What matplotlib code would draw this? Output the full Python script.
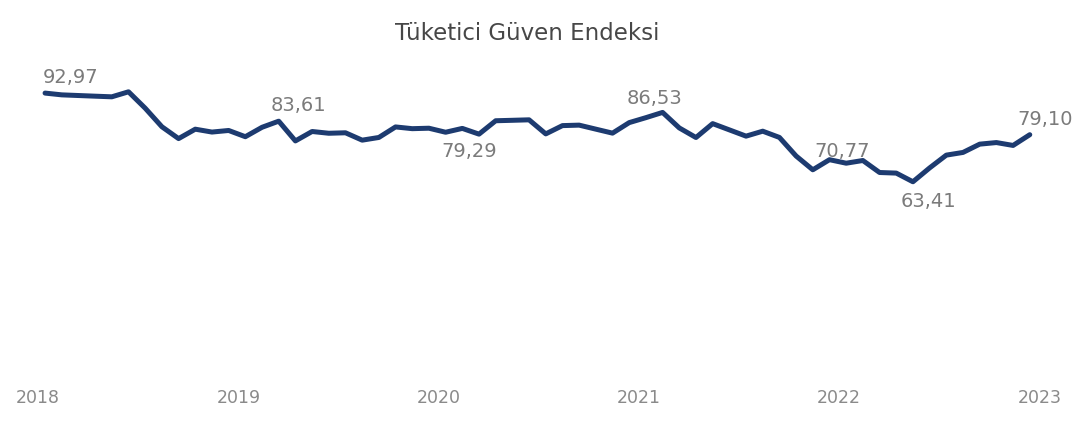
import matplotlib
matplotlib.use("Agg")
import matplotlib.pyplot as plt
import matplotlib.transforms as mtransforms
import numpy as np
import pandas as pd

# aylik endeks degerleri (Ocak 2018 - Aralik 2022)
y2018 = [92.97, 92.38, 92.16, 91.94, 91.73, 93.40, 87.93, 81.75, 77.80, 80.94, 79.98, 80.51]
y2019 = [78.43, 81.57, 83.61, 77.03, 80.17, 79.58, 79.74, 77.28, 78.18, 81.69, 81.11, 81.26]
y2020 = [79.92, 81.20, 79.29, 83.75, 83.90, 84.06, 79.37, 82.13, 82.29, 80.95, 79.62, 83.13]
y2021 = [84.78, 86.53, 81.36, 78.16, 82.79, 80.71, 78.62, 80.27, 78.19, 72.00, 67.40, 70.77]
y2022 = [69.60, 70.50, 66.50, 66.30, 63.41, 68.03, 72.29, 73.19, 75.95, 76.48, 75.52, 79.10]

years = ['2018', '2019', '2020', '2021', '2022', '2023']
labelled_months = ['2018-01', '2019-03', '2020-03', '2021-02', '2021-12', '2022-05', '2022-12']

values = y2018 + y2019 + y2020 + y2021 + y2022
months = pd.date_range('2018-01-01', periods=len(values), freq='MS').strftime('%Y-%m')
df = pd.DataFrame({'month': months, 'value': values})

plt.rcParams['font.family'] = ['DejaVu Sans']

fig = plt.figure(figsize=(10.76, 4.22), dpi=100)
ax = fig.add_axes([0, 50 / 422, 1, 312 / 422])

ax.plot(df.index, df['value'], color='#1d3b70', linewidth=3.6, solid_joinstyle='round', solid_capstyle='round')

ax.set_xlim(-2.7, 61.77)
ax.set_ylim(0, 104)

# etiketlerin konumu (piksel cinsinden kaydirma)
label_offsets = {
    '2018-01': (25, 16),
    '2019-03': (20, 16),
    '2020-03': (-10, -17),
    '2021-02': (-8, 14),
    '2021-12': (13, 8),
    '2022-05': (15, -20),
    '2022-12': (15, 15),
}
for m in labelled_months:
    row = df[df['month'] == m].iloc[0]
    i = df.index[df['month'] == m][0]
    dx, dy = label_offsets[m]
    ax.annotate(('%.2f' % row['value']).replace('.', ','), xy=(i, row['value']),
                xytext=(dx, dy), textcoords='offset pixels',
                ha='center', va='center', fontsize=14, color='#7b7b7b')

# yil etiketleri
ax.set_xticks(np.arange(len(years)) * 12)
ax.set_xticklabels(years, fontsize=12.5, color='#8a8a8a')
ax.tick_params(axis='x', length=0, pad=12)
offset = mtransforms.ScaledTranslation(-7 / 100, 0, fig.dpi_scale_trans)
for lbl in ax.get_xticklabels():
    lbl.set_transform(lbl.get_transform() + offset)
ax.set_yticks([])
for s in ax.spines.values():
    s.set_visible(False)

fig.text(0.49, 1 - 33 / 422, 'Tüketici Güven Endeksi', ha='center', va='center',
         fontsize=16.5, color='#474747')

plt.savefig('out.png', dpi=100)
plt.close()
